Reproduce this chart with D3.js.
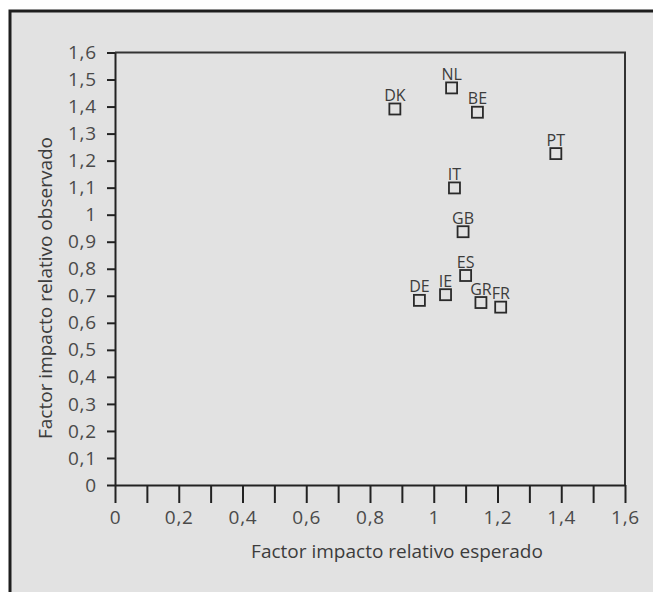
<!DOCTYPE html>
<html lang="es">
<head>
  <meta charset="UTF-8">
  <title>Factor impacto relativo</title>
  <script src="https://d3js.org/d3.v7.min.js"></script>
  <style>
    body {
      margin: 0;
      background-color: #ffffff;
      overflow: hidden;
    }
    svg text {
      font-family: "Open Sans", sans-serif;
      fill: #3c3c3c;
    }
    .tick text { font-size: 19px; letter-spacing: 0.8px; fill: #4a4a4a; }
    .tick line { stroke: #222; stroke-width: 2px; }
    .domain { stroke: #222; stroke-width: 2px; }
  </style>
</head>
<body>
  <svg id="chart" width="653" height="592"></svg>

  <script>
    // countries and their (expected, observed) relative impact factors
    const countries = ["DK", "NL", "BE", "PT", "IT", "GB", "ES", "IE", "DE", "GR", "FR"];
    const esperado  = [0.878, 1.056, 1.137, 1.383, 1.065, 1.092, 1.100, 1.037, 0.955, 1.148, 1.210];
    const observado = [1.391, 1.469, 1.379, 1.226, 1.099, 0.937, 0.775, 0.704, 0.683, 0.675, 0.658];

    const xTicks = d3.range(0, 17).map(i => i / 10);
    const yTicks = d3.range(0, 17).map(i => i / 10);
    const fmt = v => String(+v.toFixed(1)).replace(".", ",");

    const svg = d3.select("#chart");

    // grey panel with heavy left/top border
    svg.append("rect")
       .attr("x", 10).attr("y", 11)
       .attr("width", 660).attr("height", 600)
       .attr("fill", "#e2e2e2")
       .attr("stroke", "#1e1e1e")
       .attr("stroke-width", 3);

    const x = d3.scaleLinear().domain([0, 1.6]).range([115, 625]);
    const y = d3.scaleLinear().domain([0, 1.6]).range([485, 52.5]);

    // plot frame (top and right)
    svg.append("path")
       .attr("d", `M${x(0)},${y(1.6)}H${x(1.6)}V${y(0)}`)
       .attr("fill", "none")
       .attr("stroke", "#333")
       .attr("stroke-width", 2);

    const xAxis = svg.append("g")
       .attr("transform", `translate(0,${y(0)})`)
       .call(d3.axisBottom(x)
               .tickValues(xTicks)
               .tickSize(18)
               .tickSizeOuter(0)
               .tickFormat((d, i) => i % 2 === 0 ? fmt(d) : ""));
    xAxis.selectAll(".tick text").attr("dy", 0).attr("y", 39);

    const yAxis = svg.append("g")
       .attr("transform", `translate(${x(0)},0)`)
       .call(d3.axisLeft(y)
               .tickValues(yTicks)
               .tickSize(8)
               .tickSizeOuter(0)
               .tickFormat(fmt));
    yAxis.selectAll(".tick text").attr("x", -18);

    // axis titles
    svg.append("text")
       .attr("x", 397).attr("y", 558)
       .attr("text-anchor", "middle")
       .style("font-size", "19px")
       .text("Factor impacto relativo esperado");

    svg.append("text")
       .attr("transform", `translate(52,288) rotate(-90)`)
       .attr("text-anchor", "middle")
       .style("font-size", "19px")
       .text("Factor impacto relativo observado");

    // points
    const pts = svg.append("g").selectAll("g")
       .data(countries.map((c, i) => ({ c, ex: esperado[i], ob: observado[i] })))
       .enter()
       .append("g")
       .attr("transform", d => `translate(${x(d.ex)},${y(d.ob)})`);

    pts.append("rect")
       .attr("x", -5.5).attr("y", -5.5)
       .attr("width", 11).attr("height", 11)
       .attr("fill", "none")
       .attr("stroke", "#2a2a2a")
       .attr("stroke-width", 1.8);

    pts.append("text")
       .attr("y", -8)
       .attr("text-anchor", "middle")
       .style("font-size", "16px")
       .text(d => d.c);
  </script>
</body>
</html>
